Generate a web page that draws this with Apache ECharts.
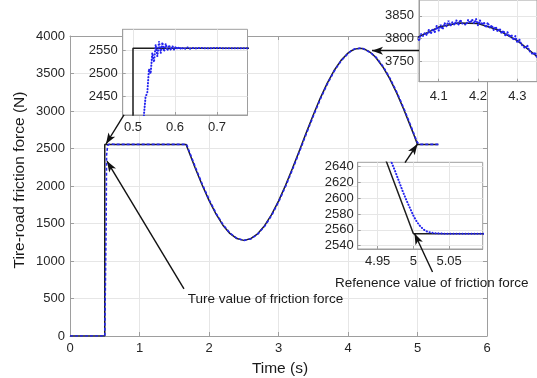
<!DOCTYPE html>
<html><head><meta charset="utf-8">
<script src="https://cdn.jsdelivr.net/npm/echarts@6/dist/echarts.min.js"></script>
<style>html,body{margin:0;padding:0;background:#fff}#c{width:537px;height:378px}</style>
</head><body><div id="c"></div>
<script>
// ---- data ----
const xTicks = [0, 1, 2, 3, 4, 5, 6];
const yTicks = [0, 500, 1000, 1500, 2000, 2500, 3000, 3500, 4000];
const xTitle = 'Time (s)';
const yTitle = 'Tire-road friction force (N)';

// true value of friction force (black solid)
const trueT = [0, 0.5, 0.5, 1.67, 1.7, 1.8, 1.9, 2.0, 2.1, 2.2, 2.3, 2.4, 2.5, 2.6, 2.7, 2.8, 2.9, 3.0, 3.1, 3.2, 3.3, 3.4, 3.5, 3.6, 3.7, 3.8, 3.9, 4.0, 4.05, 4.1, 4.15, 4.2, 4.25, 4.3, 4.35, 4.4, 4.5, 4.6, 4.7, 4.8, 4.9, 4.95, 5.0, 5.3];
const trueF = [0, 0, 2555, 2555, 2483, 2244, 2017, 1808, 1627, 1478, 1367, 1299, 1275, 1297, 1363, 1471, 1618, 1799, 2006, 2233, 2471, 2712, 2947, 3169, 3368, 3540, 3675, 3772, 3804, 3825, 3834, 3833, 3819, 3795, 3760, 3714, 3591, 3432, 3242, 3027, 2795, 2676, 2555, 2555];

// estimated friction force (blue dashed)
const estT = [
  0, 0.5, 0.508, 0.52, 0.526,
  0.530, 0.534, 0.538, 0.542, 0.546, 0.550, 0.554, 0.558, 0.562, 0.566, 0.570, 0.574, 0.578, 0.582, 0.586, 0.590, 0.594, 0.598, 0.602, 0.606, 0.610, 0.615, 0.620, 0.625, 0.630, 0.635, 0.640, 0.650, 0.660, 0.680, 0.700, 0.720, 0.750, 0.780,
  1.0, 1.3, 1.677,
  1.707, 1.807, 1.907, 2.007, 2.107, 2.207, 2.307, 2.407, 2.507, 2.607, 2.707, 2.807, 2.907, 3.007, 3.107, 3.207, 3.307, 3.407, 3.507, 3.607, 3.707, 3.807, 3.907, 4.007,
  4.040, 4.045, 4.050, 4.055, 4.060, 4.065, 4.070, 4.075, 4.080, 4.085, 4.090, 4.095, 4.100, 4.105, 4.110, 4.115, 4.120, 4.125, 4.130, 4.135, 4.140, 4.145, 4.150, 4.155, 4.160, 4.165, 4.170, 4.175, 4.180, 4.185, 4.190, 4.195, 4.200, 4.205, 4.210, 4.215, 4.220, 4.225, 4.230, 4.235, 4.240, 4.245, 4.250, 4.255, 4.260, 4.265, 4.270, 4.275, 4.280, 4.285, 4.290, 4.295, 4.300, 4.305, 4.310, 4.315, 4.320, 4.325, 4.330, 4.335, 4.340, 4.345, 4.350, 4.360,
  4.407, 4.507, 4.607, 4.707, 4.807, 4.907, 4.95, 4.9696, 4.975, 4.98, 4.985, 4.99, 4.995, 5.0, 5.005, 5.01, 5.015, 5.02, 5.028, 5.04, 5.06, 5.3
];
const estF = [
  0, 0, 0, 1500, 2410,
  2450, 2458, 2510, 2500, 2545, 2525, 2563, 2538, 2570, 2545, 2568, 2548, 2565, 2550, 2562, 2551, 2560, 2552, 2559, 2553, 2558, 2553, 2557, 2554, 2557, 2554, 2556, 2555, 2556, 2555, 2556, 2555, 2555, 2555,
  2555, 2555, 2555,
  2483, 2244, 2017, 1808, 1627, 1478, 1367, 1299, 1275, 1297, 1363, 1471, 1618, 1799, 2006, 2233, 2471, 2712, 2947, 3169, 3368, 3540, 3675, 3772,
  3797, 3806, 3794, 3810, 3805, 3812, 3807, 3819, 3810, 3821, 3813, 3828, 3817, 3830, 3820, 3834, 3827, 3839, 3828, 3836, 3830, 3840, 3829, 3841, 3833, 3837, 3830, 3841, 3834, 3842, 3833, 3843, 3829, 3840, 3830, 3836, 3824, 3835, 3823, 3829, 3818, 3826, 3815, 3822, 3811, 3817, 3805, 3814, 3803, 3808, 3796, 3805, 3790, 3798, 3787, 3790, 3778, 3785, 3773, 3775, 3764, 3769, 3757, 3749,
  3714, 3591, 3432, 3242, 3027, 2795, 2692, 2645, 2633, 2621, 2609, 2598, 2588, 2578, 2570, 2564, 2560, 2557.5, 2556, 2555.3, 2555, 2555
];

// insets: axis ranges and ticks
const inset1X = [0.4755, 0.7726], inset1Y = [2410, 2596.5];
const inset1XTicks = [0.5, 0.6, 0.7], inset1YTicks = [2450, 2500, 2550];
const inset2X = [4.05, 4.35], inset2Y = [3704, 3885];
const inset2XTicks = [4.1, 4.2, 4.3], inset2YTicks = [3750, 3800, 3850];
const inset3X = [4.922, 5.097], inset3Y = [2535.8, 2645.6];
const inset3XTicks = [4.95, 5, 5.05], inset3YTicks = [2540, 2560, 2580, 2600, 2620, 2640];

// annotation arrows (main-axis data coordinates: [from], [to])
const arrows = [
  [[0.777, 2947], [0.518, 2560]],
  [[1.640, 627], [0.532, 2333]],
  [[5.022, 3804], [4.345, 3804]],
  [[4.820, 2313], [5.0, 2560]],
  [[5.216, 853], [4.957, 1367]]
];
const annTrue = 'Ture value of friction force';
const annRef = 'Refenence value of friction force';

// ---- chart ----
const FONT = '"Liberation Sans", Arial, Helvetica, sans-serif';
const LABEL = '#262626', AXIS = '#9e9e9e', GRIDL = '#e6e6e6';
const BLACK = '#1e1e1e', BLUE = '#2424f0';
const pairs = (t, f) => t.map((v, i) => [v, f[i]]);
const trueData = pairs(trueT, trueF);
const estData = pairs(estT, estF);
const fmt = v => String(+v.toFixed(3));

function mainAxis(gi, min, max, pos, showLabel, ticks, margin) {
  return {
    type: 'value', gridIndex: gi, min, max, position: pos, interval: ticks[1] - ticks[0],
    axisLine: {show: true, onZero: false, lineStyle: {color: AXIS, width: 1}},
    axisTick: {show: true, inside: true, length: 4, lineStyle: {color: AXIS}},
    axisLabel: {show: showLabel, margin, color: LABEL, fontSize: 13, fontFamily: FONT, formatter: fmt},
    splitLine: {show: showLabel, lineStyle: {color: GRIDL, width: 1}}
  };
}
function insetAxis(gi, range, ticks, margin) {
  return {
    type: 'value', gridIndex: gi, min: range[0], max: range[1], z: 11,
    axisLine: {show: true, onZero: false, lineStyle: {color: AXIS, width: 1}},
    axisTick: {show: true, inside: true, length: 3, customValues: ticks, lineStyle: {color: AXIS}},
    axisLabel: {customValues: ticks, margin, color: LABEL, fontSize: 13, fontFamily: FONT, formatter: fmt, showMinLabel: true, showMaxLabel: true},
    splitLine: {show: true, lineStyle: {color: GRIDL, width: 1}}
  };
}
function pairSeries(xi, yi, z, inset) {
  return [
    {type: 'line', xAxisIndex: xi, yAxisIndex: yi, data: trueData, z, showSymbol: false, symbol: 'none',
     lineStyle: {color: BLACK, width: 1.5}, silent: true, clip: true},
    {type: 'line', xAxisIndex: xi, yAxisIndex: yi, data: estData, z: z + 1, showSymbol: false, symbol: 'none',
     lineStyle: inset ? {color: BLUE, width: 2, type: [0.3, 2.7], cap: 'round'} : {color: BLUE, width: 1.6, type: [3, 2]},
     silent: true, clip: true}
  ];
}

const chart = echarts.init(document.getElementById('c'), null, {renderer: 'canvas'});
const series = [
  ...pairSeries(0, 0, 2, false),
  ...pairSeries(2, 2, 12, true),
  ...pairSeries(3, 3, 12, true),
  ...pairSeries(4, 4, 12, true)
];
series[0].markLine = {
  silent: true, z: 50, animation: false,
  symbol: ['none', 'arrow'],
  label: {show: false},
  lineStyle: {color: '#111', width: 1.4, type: 'solid'},
  data: arrows.map(a => [
    {coord: a[0], symbol: 'none'},
    {coord: a[1], symbol: 'arrow', symbolSize: [6, 11]}
  ])
};

chart.setOption({
  animation: false,
  backgroundColor: '#fff',
  textStyle: {fontFamily: FONT},
  grid: [
    {left: 70, top: 36, width: 417, height: 300, show: false},
    {left: 122.7, top: 29.3, width: 124.8, height: 85.7, show: true, backgroundColor: '#fff', borderColor: AXIS, borderWidth: 1, z: 10},
    {left: 419, top: -1, width: 120, height: 82.7, show: true, backgroundColor: '#fff', borderColor: AXIS, borderWidth: 1, z: 10},
    {left: 357.7, top: 162.3, width: 125, height: 86.7, show: true, backgroundColor: '#fff', borderColor: AXIS, borderWidth: 1, z: 10}
  ],
  xAxis: [
    mainAxis(0, 0, 6, 'bottom', true, xTicks, 6),
    mainAxis(0, 0, 6, 'top', false, xTicks, 6),
    insetAxis(1, inset1X, inset1XTicks, 6),
    insetAxis(2, inset2X, inset2XTicks, 8),
    insetAxis(3, inset3X, inset3XTicks, 6)
  ],
  yAxis: [
    mainAxis(0, 0, 4000, 'left', true, yTicks, 5),
    mainAxis(0, 0, 4000, 'right', false, yTicks, 5),
    insetAxis(1, inset1Y, inset1YTicks, 5),
    insetAxis(2, inset2Y, inset2YTicks, 5),
    insetAxis(3, inset3Y, inset3YTicks, 4)
  ],
  series,
  graphic: [
    {type: 'text', x: 280, y: 369, z: 60, style: {text: xTitle, font: '15.5px ' + FONT, fill: '#1a1a1a', align: 'center', verticalAlign: 'middle'}},
    {type: 'text', x: 20, y: 180, rotation: Math.PI / 2, z: 60, style: {text: yTitle, font: '15.5px ' + FONT, fill: '#1a1a1a', align: 'center', verticalAlign: 'middle'}},
    {type: 'text', x: 187.7, y: 299.5, z: 60, style: {text: annTrue, font: '13.5px ' + FONT, fill: '#1a1a1a', align: 'left', verticalAlign: 'middle'}},
    {type: 'text', x: 335, y: 283.5, z: 60, style: {text: annRef, font: '13.5px ' + FONT, fill: '#1a1a1a', align: 'left', verticalAlign: 'middle'}}
  ]
});
</script>
</body></html>
